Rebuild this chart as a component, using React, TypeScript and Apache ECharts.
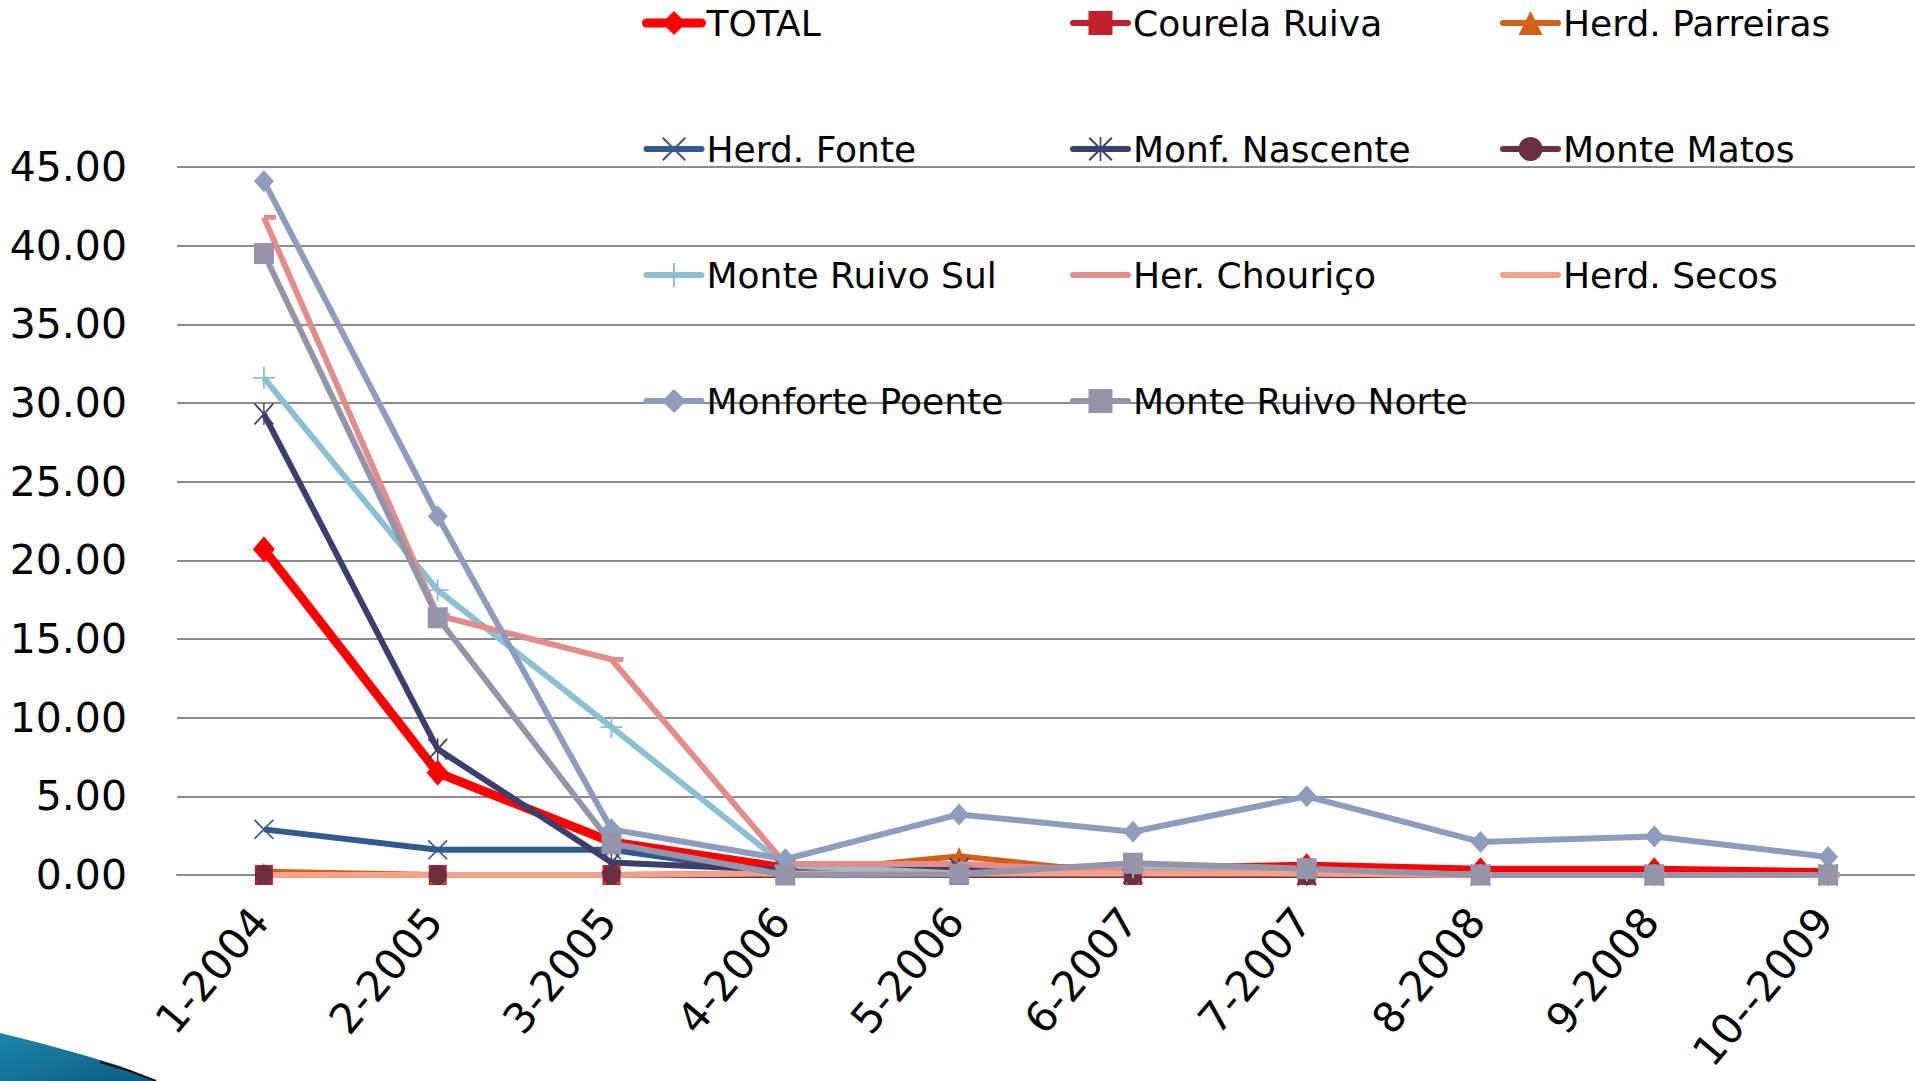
import React, { useEffect, useRef } from "react";
import * as echarts from "echarts";

const categories = ["1-2004", "2-2005", "3-2005", "4-2006", "5-2006", "6-2007", "7-2007", "8-2008", "9-2008", "10--2009"];

const total = [20.7, 6.5, 2.1, 0.45, 0.45, 0.35, 0.55, 0.3, 0.3, 0.15];
const courelaRuiva = [0, 0, 0, 0, 0, 0, 0, 0, 0, 0];
const herdParreiras = [0.2, 0, 0, 0.1, 1.2, 0, 0, 0, 0, 0];
const herdFonte = [2.9, 1.6, 1.6, 0.05, 0.5, 0.1, 0, 0, 0, 0];
const monfNascente = [29.3, 8.0, 0.8, 0.3, 0.4, 0.1, 0, 0, 0, 0];
const monteMatos = [0, 0, 0, 0, 0, 0, 0, 0, 0, 0];
const monteRuivoSul = [31.6, 18.1, 9.4, 0.6, 0.1, 0.5, 0.3, 0, 0, 0];
const herChourico = [41.8, 16.5, 13.7, 0.7, 0.7, 0.2, 0.1, 0, 0, 0];
const herdSecos = [0, 0, 0, 0.1, 0.1, 0.1, 0.1, 0, 0, 0];
const monfortePoente = [44.1, 22.8, 2.9, 1.0, 3.85, 2.75, 5.0, 2.1, 2.45, 1.15];
const monteRuivoNorte = [39.5, 16.35, 2.0, 0, 0.05, 0.75, 0.4, 0, 0, 0];

const yTicks = { min: 0, max: 45, interval: 5 };

const X_PATH = "path://M0,1.2 L1.2,0 L10,8.8 L18.8,0 L20,1.2 L11.2,10 L20,18.8 L18.8,20 L10,11.2 L1.2,20 L0,18.8 L8.8,10 Z";
const ASTER_PATH = "path://M0,1.2 L1.2,0 L10,8.8 L18.8,0 L20,1.2 L11.2,10 L20,18.8 L18.8,20 L10,11.2 L1.2,20 L0,18.8 L8.8,10 Z M9.3,0 L10.7,0 L10.7,20 L9.3,20 Z";
const PLUS_PATH = "path://M9.2,0 L10.8,0 L10.8,9.2 L20,9.2 L20,10.8 L10.8,10.8 L10.8,20 L9.2,20 L9.2,10.8 L0,10.8 L0,9.2 L9.2,9.2 Z";
const DASH_PATH = "path://M0,0 L10,0 L10,3 L0,3 Z";

const FONT = "DejaVu Sans";

export default function App() {
  const ref = useRef<HTMLDivElement>(null);
  useEffect(() => {
    if (!ref.current) return;
    const chart = echarts.init(ref.current, null, { renderer: "svg" });

    const mk = (name: string, data: number[], color: string, symbol: string, size: any, width = 6, extra: any = {}) => ({
      name,
      type: "line",
      data,
      symbol,
      symbolSize: size,
      showSymbol: symbol !== "none",
      lineStyle: { color, width },
      itemStyle: { color, borderWidth: 0 },
      ...extra,
    });

    const series = [
      mk("TOTAL", total, "#FF0000", "diamond", [22, 26], 9),
      mk("Courela Ruiva", courelaRuiva, "#C0202A", "rect", [18, 20]),
      mk("Herd. Parreiras", herdParreiras, "#D2601A", "triangle", [16, 18]),
      mk("Herd. Fonte", herdFonte, "#335A8E", X_PATH, [20, 20]),
      mk("Monf. Nascente", monfNascente, "#3C3F6B", ASTER_PATH, [20, 22]),
      mk("Monte Matos", monteMatos, "#6B2F40", "circle", [18, 20]),
      mk("Monte Ruivo Sul", monteRuivoSul, "#8CC0D3", PLUS_PATH, [22, 22]),
      mk("Her. Chouriço", herChourico, "#E38C8C", DASH_PATH, [12, 5], 6, { symbolOffset: [6, 0] }),
      mk("Herd. Secos", herdSecos, "#F2A088", "none", 0),
      mk("Monforte Poente", monfortePoente, "#8D9DBB", "diamond", [20, 22]),
      mk("Monte Ruivo Norte", monteRuivoNorte, "#9595A9", "rect", [20, 21]),
    ];

    const legendBase = {
      orient: "vertical",
      top: -2,
      itemWidth: 55,
      itemHeight: 30,
      itemGap: 86,
      lineStyle: { width: 6, cap: "round" },
      textStyle: { fontFamily: FONT, fontSize: 36, color: "#000", lineHeight: 40 },
    };

    chart.setOption({
      animation: false,
      backgroundColor: "#ffffff",
      legend: [
        {
          ...legendBase,
          left: 637,
          data: [
            { name: "TOTAL", lineStyle: { width: 9, cap: "round" } },
            "Herd. Fonte",
            "Monte Ruivo Sul",
            "Monforte Poente",
          ],
        },
        {
          ...legendBase,
          left: 1065,
          data: ["Courela Ruiva", "Monf. Nascente", { name: "Her. Chouriço", itemStyle: { opacity: 0 } }, "Monte Ruivo Norte"],
        },
        {
          ...legendBase,
          left: 1495,
          data: ["Herd. Parreiras", "Monte Matos", { name: "Herd. Secos", itemStyle: { opacity: 0 } }],
        },
      ],
      grid: { left: 177, right: 0, top: 167, bottom: 206, containLabel: false, outerBoundsMode: "none" },
      xAxis: {
        type: "category",
        data: categories,
        boundaryGap: true,
        axisLine: { show: true, lineStyle: { color: "#8c8c8c", width: 2 } },
        axisTick: { show: false },
        axisLabel: {
          rotate: 50,
          interval: 0,
          margin: 34,
          padding: [0, 6, 0, 0],
          fontFamily: FONT,
          fontSize: 42,
          color: "#000",
        },
      },
      yAxis: {
        type: "value",
        min: yTicks.min,
        max: yTicks.max,
        interval: yTicks.interval,
        axisLine: { show: false },
        axisTick: { show: false },
        splitLine: { show: true, lineStyle: { color: "#8c8c8c", width: 2 } },
        axisLabel: {
          margin: 50,
          padding: [0, 0, 10, 0],
          fontFamily: FONT,
          fontSize: 41,
          color: "#000",
          formatter: (v: number) => v.toFixed(2),
        },
      },
      graphic: [
        {
          type: "polygon",
          silent: true,
          shape: {
            points: [[0, 1033], [40, 1043], [80, 1054], [120, 1066], [156, 1081], [0, 1081]],
          },
          style: {
            fill: new echarts.graphic.LinearGradient(0, 0, 1, 1, [
              { offset: 0, color: "#1C86A8" },
              { offset: 1, color: "#0B5E82" },
            ]),
          },
        },
        {
          type: "polyline",
          silent: true,
          shape: { points: [[100, 1062], [130, 1071], [156, 1081]] },
          style: { stroke: "#111", lineWidth: 2, fill: "none" },
        },
      ],
      series,
    });

    return () => chart.dispose();
  }, []);

  return (
    <div
      ref={ref}
      style={{ position: "fixed", left: 0, top: 0, width: 1915, height: 1081, background: "#fff" }}
    />
  );
}
